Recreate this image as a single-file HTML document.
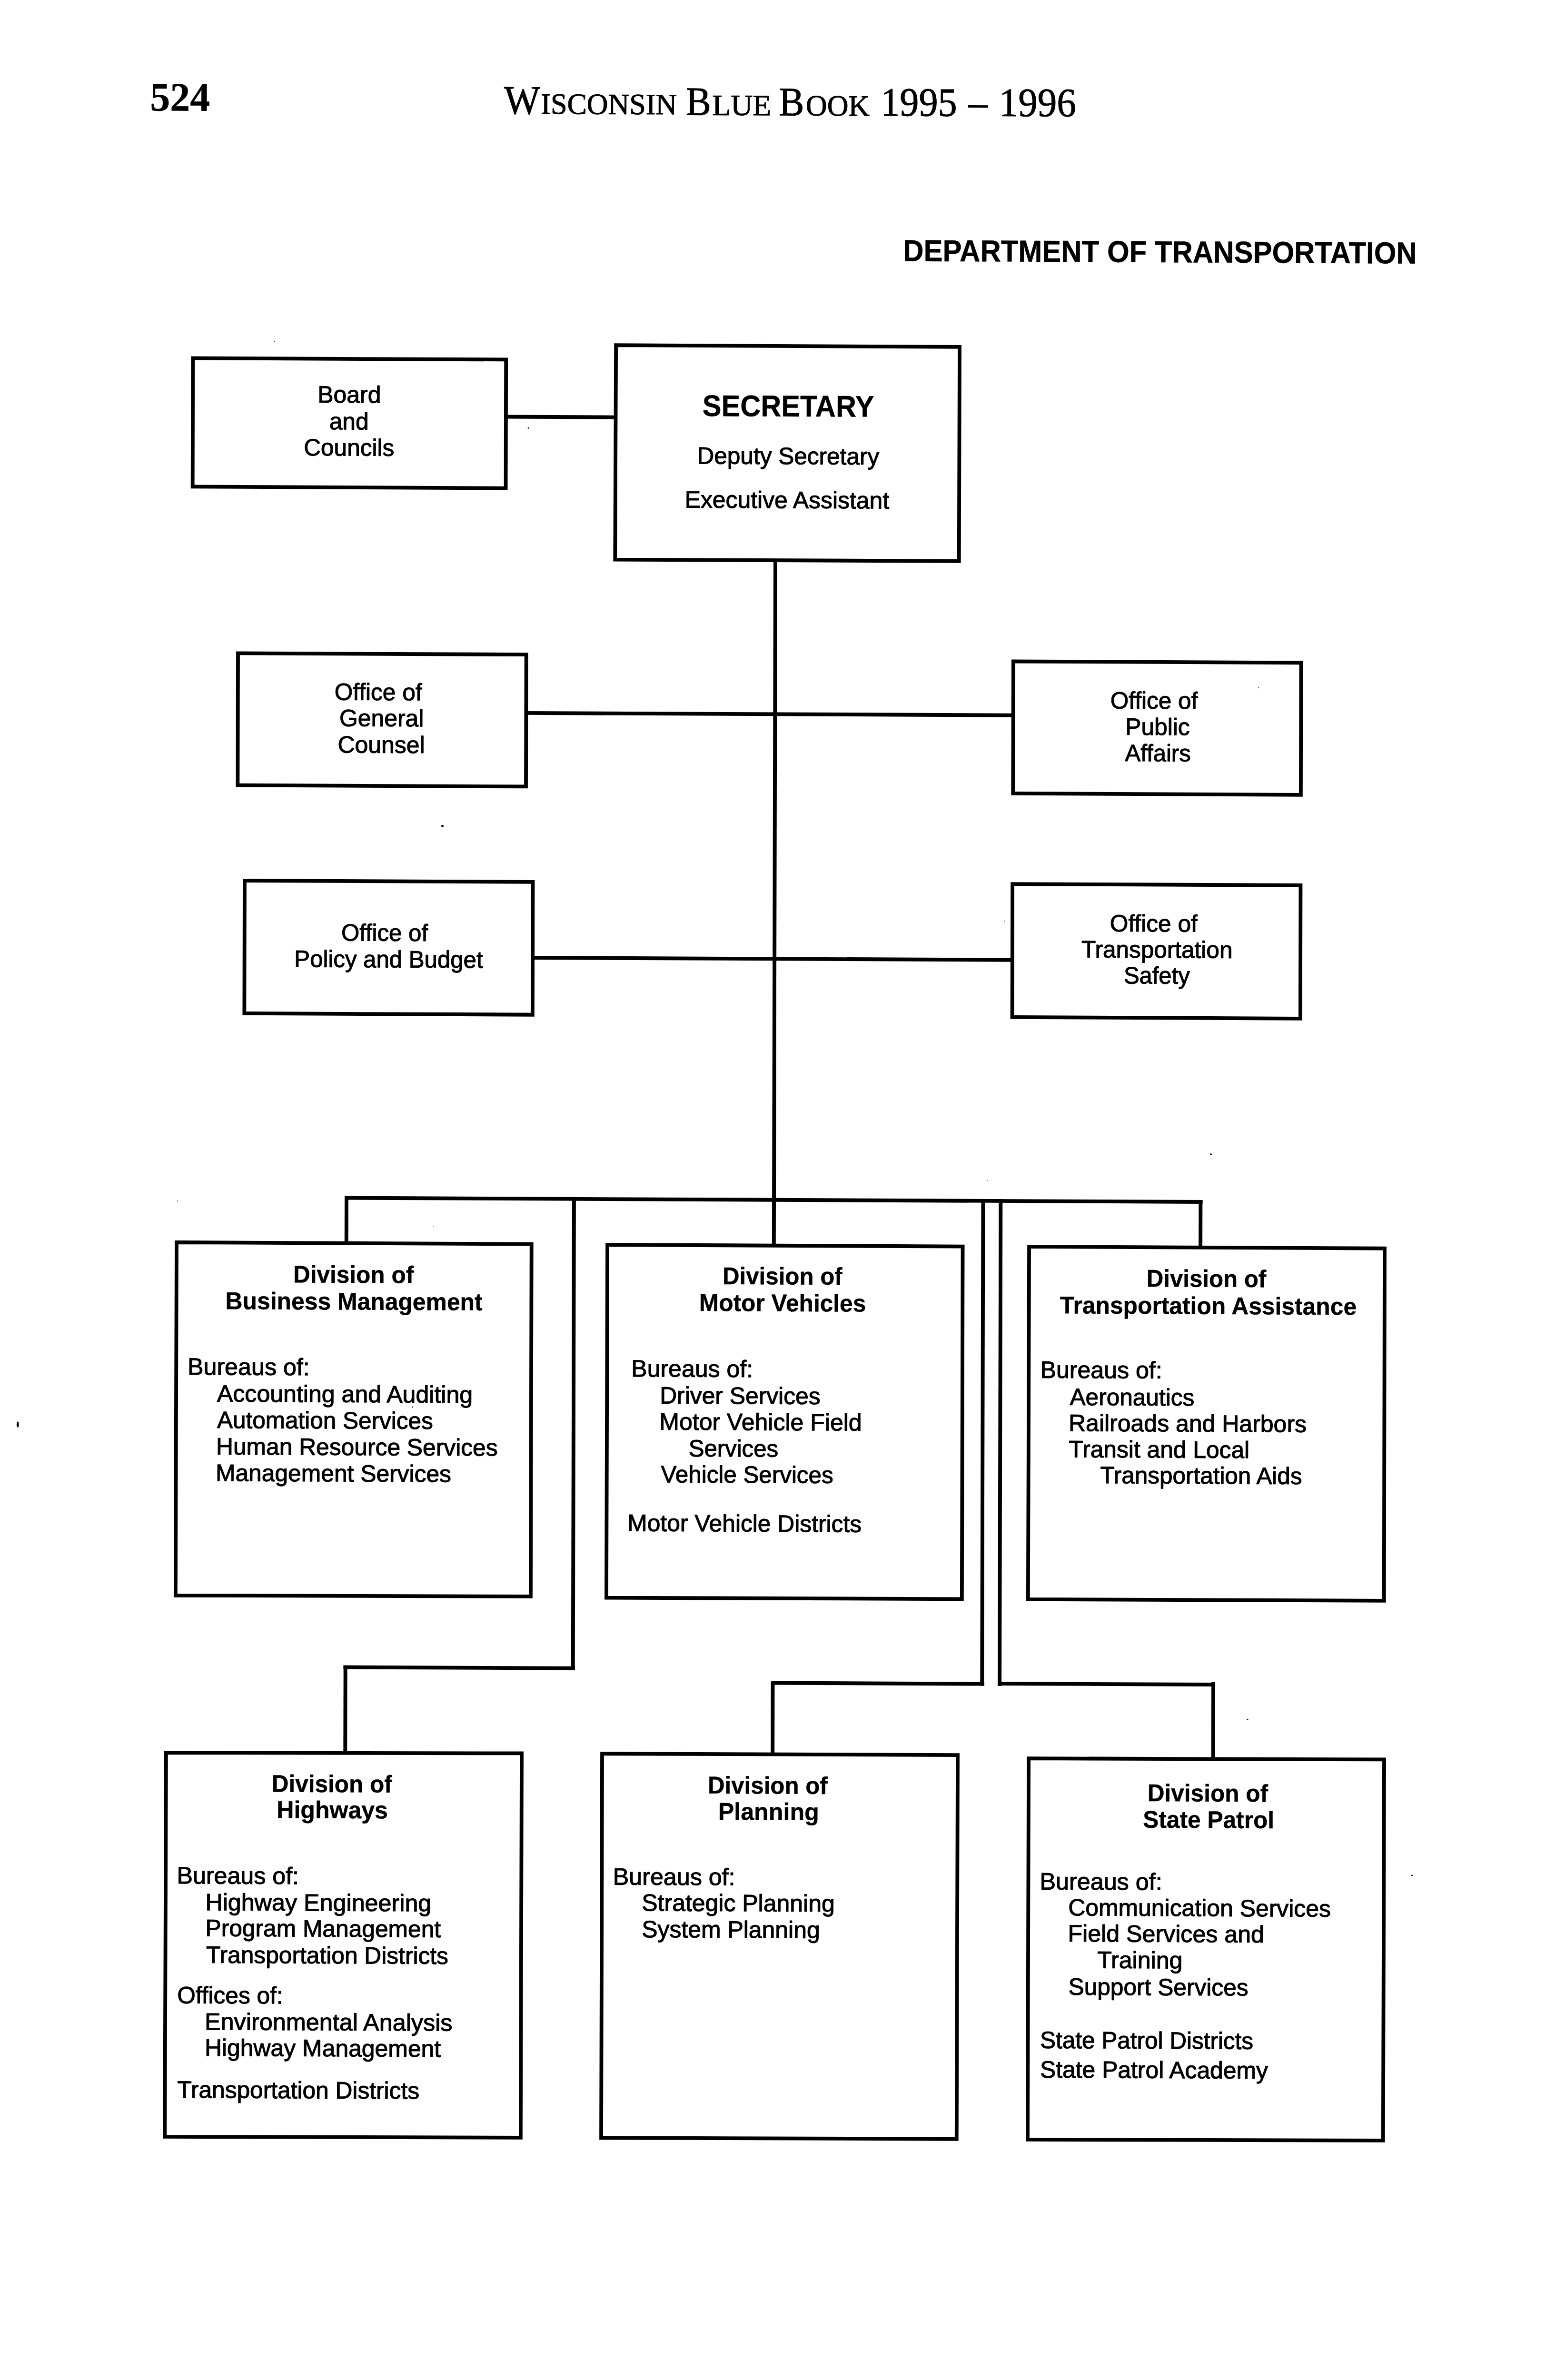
<!DOCTYPE html>
<html><head><meta charset="utf-8"><style>
html,body{margin:0;padding:0;background:#fff;}
svg{display:block;}
text{fill:#000;stroke:#000;stroke-linejoin:round;}
.r{font-family:"Liberation Sans",sans-serif;font-weight:normal;stroke-width:1.1px;}
.b{font-family:"Liberation Sans",sans-serif;font-weight:bold;stroke-width:0.4px;}
.sr{font-family:"Liberation Serif",serif;font-weight:normal;stroke-width:1.0px;}
.sb{font-family:"Liberation Serif",serif;font-weight:bold;stroke-width:0.4px;}
</style></head><body>
<svg width="3248" height="5220" viewBox="0 0 3248 5220">
<rect width="3248" height="5220" fill="#fff"/>
<g transform="matrix(1 0.0047 -0.0022 1 5.742 -7.633)">
<text class="sb" x="310.1" y="238.5" font-size="85" textLength="126.0" lengthAdjust="spacingAndGlyphs">524</text>
<text class="sr" x="1053.7" y="241.5" font-size="85" textLength="75.7" lengthAdjust="spacingAndGlyphs">W</text>
<text class="sr" x="1131.1" y="241.3" font-size="62" textLength="285.7" lengthAdjust="spacingAndGlyphs">ISCONSIN</text>
<text class="sr" x="1435.9" y="242.4" font-size="85" textLength="52.7" lengthAdjust="spacingAndGlyphs">B</text>
<text class="sr" x="1491.0" y="242.3" font-size="62" textLength="124.0" lengthAdjust="spacingAndGlyphs">LUE</text>
<text class="sr" x="1631.3" y="242.1" font-size="85" textLength="52.9" lengthAdjust="spacingAndGlyphs">B</text>
<text class="sr" x="1687.7" y="242.2" font-size="62" textLength="134.2" lengthAdjust="spacingAndGlyphs">OOK</text>
<text class="sr" x="1845.0" y="241.9" font-size="85" textLength="160.4" lengthAdjust="spacingAndGlyphs">1995</text>
<text class="sr" x="2029.6" y="241.6" font-size="85" textLength="39.9" lengthAdjust="spacingAndGlyphs">–</text>
<text class="sr" x="2093.5" y="241.5" font-size="85" textLength="162.2" lengthAdjust="spacingAndGlyphs">1996</text>
<text class="b" x="1892.7" y="547.3" font-size="64" textLength="1079.4" lengthAdjust="spacingAndGlyphs">DEPARTMENT OF TRANSPORTATION</text>
<rect x="401.2" y="758.1" width="657.9" height="270.1" fill="none" stroke="#000" stroke-width="7.8"/>
<path d="M1290.0,726.7 L2011.9,727.1 L2011.6,1177.0 L1289.1,1177.1 Z" fill="none" stroke="#000" stroke-width="7.8" stroke-linejoin="miter"/>
<rect x="497.3" y="1377.6" width="605.6" height="277.3" fill="none" stroke="#000" stroke-width="7.8"/>
<rect x="2126.2" y="1387.1" width="604.6" height="277.5" fill="none" stroke="#000" stroke-width="7.8"/>
<rect x="512.3" y="1855.2" width="605.5" height="278.9" fill="none" stroke="#000" stroke-width="7.8"/>
<rect x="2125.5" y="1854.7" width="605.3" height="279.9" fill="none" stroke="#000" stroke-width="7.8"/>
<path d="M371.0,2615.9 L1116.7,2615.9 L1116.6,3356.2 L370.5,3357.7 Z" fill="none" stroke="#000" stroke-width="7.8" stroke-linejoin="miter"/>
<path d="M1276.1,2616.7 L2022.6,2616.8 L2022.5,3357.5 L1275.6,3358.2 Z" fill="none" stroke="#000" stroke-width="7.8" stroke-linejoin="miter"/>
<path d="M2162.1,2616.4 L2909.0,2616.7 L2909.4,3356.8 L2161.5,3357.3 Z" fill="none" stroke="#000" stroke-width="7.8" stroke-linejoin="miter"/>
<path d="M351.3,3688.0 L1098.4,3685.9 L1098.0,4493.3 L350.4,4494.8 Z" fill="none" stroke="#000" stroke-width="7.8" stroke-linejoin="miter"/>
<path d="M1267.4,3685.9 L2014.4,3685.2 L2013.9,4491.9 L1267.2,4492.9 Z" fill="none" stroke="#000" stroke-width="7.8" stroke-linejoin="miter"/>
<path d="M2163.5,3691.6 L2910.4,3690.4 L2909.9,4490.9 L2163.1,4492.4 Z" fill="none" stroke="#000" stroke-width="7.8" stroke-linejoin="miter"/>
<rect x="1058.2" y="874.2" width="232.0" height="7.9" fill="#000"/>
<rect x="1621.9" y="1178.0" width="7.9" height="1436.0" fill="#000"/>
<rect x="1102.6" y="1496.4" width="1024.0" height="7.9" fill="#000"/>
<rect x="1117.7" y="2010.4" width="1008.0" height="7.9" fill="#000"/>
<rect x="723.8" y="2516.8" width="1802.5" height="7.9" fill="#000"/>
<rect x="723.8" y="2517.2" width="7.9" height="97.0" fill="#000"/>
<rect x="2518.2" y="2516.8" width="7.9" height="98.0" fill="#000"/>
<rect x="1201.8" y="2517.0" width="7.9" height="993.0" fill="#000"/>
<rect x="723.4" y="3502.8" width="486.6" height="7.9" fill="#000"/>
<rect x="723.7" y="3503.2" width="7.9" height="182.0" fill="#000"/>
<rect x="2061.3" y="2516.9" width="7.9" height="1022.5" fill="#000"/>
<rect x="1622.3" y="3531.6" width="447.7" height="7.9" fill="#000"/>
<rect x="1621.6" y="3533.0" width="7.9" height="151.0" fill="#000"/>
<rect x="2098.2" y="2516.8" width="7.9" height="1023.0" fill="#000"/>
<rect x="2098.4" y="3530.8" width="456.6" height="7.9" fill="#000"/>
<rect x="2547.1" y="3529.6" width="7.9" height="160.0" fill="#000"/>
<text class="r" x="663.4" y="850.2" font-size="50" textLength="133.2" lengthAdjust="spacingAndGlyphs">Board</text>
<text class="r" x="688.0" y="906.5" font-size="50" textLength="82.9" lengthAdjust="spacingAndGlyphs">and</text>
<text class="r" x="634.7" y="961.6" font-size="50" textLength="189.9" lengthAdjust="spacingAndGlyphs">Councils</text>
<text class="b" x="1471.9" y="874.7" font-size="63" textLength="360.7" lengthAdjust="spacingAndGlyphs">SECRETARY</text>
<text class="r" x="1460.9" y="975.0" font-size="50" textLength="382.7" lengthAdjust="spacingAndGlyphs">Deputy Secretary</text>
<text class="r" x="1435.3" y="1067.4" font-size="50" textLength="429.4" lengthAdjust="spacingAndGlyphs">Executive Assistant</text>
<text class="r" x="700.3" y="1474.9" font-size="50" textLength="183.7" lengthAdjust="spacingAndGlyphs">Office of</text>
<text class="r" x="710.6" y="1529.7" font-size="50" textLength="177.4" lengthAdjust="spacingAndGlyphs">General</text>
<text class="r" x="707.2" y="1585.6" font-size="50" textLength="183.2" lengthAdjust="spacingAndGlyphs">Counsel</text>
<text class="r" x="2330.3" y="1485.1" font-size="50" textLength="183.6" lengthAdjust="spacingAndGlyphs">Office of</text>
<text class="r" x="2362.0" y="1540.3" font-size="50" textLength="135.3" lengthAdjust="spacingAndGlyphs">Public</text>
<text class="r" x="2361.4" y="1595.5" font-size="50" textLength="138.1" lengthAdjust="spacingAndGlyphs">Affairs</text>
<text class="r" x="715.5" y="1980.5" font-size="50" textLength="182.2" lengthAdjust="spacingAndGlyphs">Office of</text>
<text class="r" x="617.1" y="2036.2" font-size="50" textLength="396.2" lengthAdjust="spacingAndGlyphs">Policy and Budget</text>
<text class="r" x="2330.3" y="1953.5" font-size="50" textLength="184.1" lengthAdjust="spacingAndGlyphs">Office of</text>
<text class="r" x="2270.8" y="2008.3" font-size="50" textLength="317.3" lengthAdjust="spacingAndGlyphs">Transportation</text>
<text class="r" x="2359.7" y="2062.7" font-size="50" textLength="138.7" lengthAdjust="spacingAndGlyphs">Safety</text>
<text class="b" x="616.1" y="2699.3" font-size="51" textLength="253.3" lengthAdjust="spacingAndGlyphs">Division of</text>
<text class="b" x="473.9" y="2755.7" font-size="51" textLength="540.1" lengthAdjust="spacingAndGlyphs">Business Management</text>
<text class="r" x="394.6" y="2893.8" font-size="50" textLength="256.8" lengthAdjust="spacingAndGlyphs">Bureaus of:</text>
<text class="r" x="456.7" y="2950.1" font-size="50" textLength="537.2" lengthAdjust="spacingAndGlyphs">Accounting and Auditing</text>
<text class="r" x="456.8" y="3005.6" font-size="50" textLength="453.9" lengthAdjust="spacingAndGlyphs">Automation Services</text>
<text class="r" x="455.0" y="3061.2" font-size="50" textLength="591.6" lengthAdjust="spacingAndGlyphs">Human Resource Services</text>
<text class="r" x="454.1" y="3116.7" font-size="50" textLength="495.0" lengthAdjust="spacingAndGlyphs">Management Services</text>
<text class="b" x="1518.1" y="2698.4" font-size="51" textLength="251.8" lengthAdjust="spacingAndGlyphs">Division of</text>
<text class="b" x="1469.1" y="2754.8" font-size="51" textLength="350.6" lengthAdjust="spacingAndGlyphs">Motor Vehicles</text>
<text class="r" x="1326.9" y="2893.4" font-size="50" textLength="255.8" lengthAdjust="spacingAndGlyphs">Bureaus of:</text>
<text class="r" x="1386.9" y="2949.6" font-size="50" textLength="337.5" lengthAdjust="spacingAndGlyphs">Driver Services</text>
<text class="r" x="1386.2" y="3004.8" font-size="50" textLength="425.3" lengthAdjust="spacingAndGlyphs">Motor Vehicle Field</text>
<text class="r" x="1447.7" y="3060.5" font-size="50" textLength="188.3" lengthAdjust="spacingAndGlyphs">Services</text>
<text class="r" x="1389.7" y="3115.3" font-size="50" textLength="362.1" lengthAdjust="spacingAndGlyphs">Vehicle Services</text>
<text class="r" x="1319.6" y="3217.9" font-size="50" textLength="491.9" lengthAdjust="spacingAndGlyphs">Motor Vehicle Districts</text>
<text class="b" x="2409.0" y="2699.4" font-size="51" textLength="251.4" lengthAdjust="spacingAndGlyphs">Division of</text>
<text class="b" x="2227.1" y="2756.5" font-size="51" textLength="623.3" lengthAdjust="spacingAndGlyphs">Transportation Assistance</text>
<text class="r" x="2186.1" y="2892.0" font-size="50" textLength="256.2" lengthAdjust="spacingAndGlyphs">Bureaus of:</text>
<text class="r" x="2248.3" y="2948.9" font-size="50" textLength="261.7" lengthAdjust="spacingAndGlyphs">Aeronautics</text>
<text class="r" x="2245.9" y="3003.5" font-size="50" textLength="500.0" lengthAdjust="spacingAndGlyphs">Railroads and Harbors</text>
<text class="r" x="2246.6" y="3058.5" font-size="50" textLength="379.5" lengthAdjust="spacingAndGlyphs">Transit and Local</text>
<text class="r" x="2312.5" y="3112.9" font-size="50" textLength="424.2" lengthAdjust="spacingAndGlyphs">Transportation Aids</text>
<text class="b" x="573.4" y="3769.5" font-size="51" textLength="252.8" lengthAdjust="spacingAndGlyphs">Division of</text>
<text class="b" x="584.0" y="3824.2" font-size="51" textLength="233.6" lengthAdjust="spacingAndGlyphs">Highways</text>
<text class="r" x="374.4" y="3962.9" font-size="50" textLength="256.6" lengthAdjust="spacingAndGlyphs">Bureaus of:</text>
<text class="r" x="434.5" y="4018.8" font-size="50" textLength="474.9" lengthAdjust="spacingAndGlyphs">Highway Engineering</text>
<text class="r" x="434.7" y="4073.1" font-size="50" textLength="494.7" lengthAdjust="spacingAndGlyphs">Program Management</text>
<text class="r" x="436.4" y="4129.3" font-size="50" textLength="508.9" lengthAdjust="spacingAndGlyphs">Transportation Districts</text>
<text class="r" x="375.7" y="4214.3" font-size="50" textLength="222.5" lengthAdjust="spacingAndGlyphs">Offices of:</text>
<text class="r" x="433.7" y="4269.8" font-size="50" textLength="520.5" lengthAdjust="spacingAndGlyphs">Environmental Analysis</text>
<text class="r" x="433.8" y="4324.5" font-size="50" textLength="496.2" lengthAdjust="spacingAndGlyphs">Highway Management</text>
<text class="r" x="376.4" y="4412.9" font-size="50" textLength="508.6" lengthAdjust="spacingAndGlyphs">Transportation Districts</text>
<text class="b" x="1489.5" y="3768.5" font-size="51" textLength="251.8" lengthAdjust="spacingAndGlyphs">Division of</text>
<text class="b" x="1511.4" y="3823.6" font-size="51" textLength="212.0" lengthAdjust="spacingAndGlyphs">Planning</text>
<text class="r" x="1290.8" y="3961.0" font-size="50" textLength="256.7" lengthAdjust="spacingAndGlyphs">Bureaus of:</text>
<text class="r" x="1351.4" y="4015.5" font-size="50" textLength="405.4" lengthAdjust="spacingAndGlyphs">Strategic Planning</text>
<text class="r" x="1351.5" y="4071.2" font-size="50" textLength="374.4" lengthAdjust="spacingAndGlyphs">System Planning</text>
<text class="b" x="2413.3" y="3780.4" font-size="51" textLength="253.3" lengthAdjust="spacingAndGlyphs">Division of</text>
<text class="b" x="2403.9" y="3836.1" font-size="51" textLength="275.9" lengthAdjust="spacingAndGlyphs">State Patrol</text>
<text class="r" x="2187.5" y="3966.8" font-size="50" textLength="257.1" lengthAdjust="spacingAndGlyphs">Bureaus of:</text>
<text class="r" x="2247.3" y="4021.3" font-size="50" textLength="551.8" lengthAdjust="spacingAndGlyphs">Communication Services</text>
<text class="r" x="2246.7" y="4076.0" font-size="50" textLength="412.5" lengthAdjust="spacingAndGlyphs">Field Services and</text>
<text class="r" x="2308.5" y="4131.4" font-size="50" textLength="179.4" lengthAdjust="spacingAndGlyphs">Training</text>
<text class="r" x="2248.0" y="4187.9" font-size="50" textLength="378.1" lengthAdjust="spacingAndGlyphs">Support Services</text>
<text class="r" x="2188.7" y="4300.1" font-size="50" textLength="448.1" lengthAdjust="spacingAndGlyphs">State Patrol Districts</text>
<text class="r" x="2188.9" y="4362.0" font-size="50" textLength="478.8" lengthAdjust="spacingAndGlyphs">State Patrol Academy</text>
<ellipse cx="38.2" cy="3000.0" rx="2.4" ry="6.4" transform="rotate(0 38.2 3000.0)" fill="#000"/>
<ellipse cx="927.6" cy="1738.6" rx="2.6" ry="2.3" transform="rotate(0 927.6 1738.6)" fill="#000"/>
<ellipse cx="1106.2" cy="901.9" rx="1.4" ry="1.4" transform="rotate(0 1106.2 901.9)" fill="#000"/>
<ellipse cx="2543.6" cy="2420.7" rx="2.6" ry="1.3" transform="rotate(35 2543.6 2420.7)" fill="#000"/>
<ellipse cx="572.8" cy="722.9" rx="1.0" ry="1.0" transform="rotate(0 572.8 722.9)" fill="#000"/>
<ellipse cx="372.8" cy="2528.9" rx="0.9" ry="0.9" transform="rotate(0 372.8 2528.9)" fill="#000"/>
<ellipse cx="910.9" cy="2579.4" rx="0.8" ry="0.8" transform="rotate(0 910.9 2579.4)" fill="#000"/>
<ellipse cx="2641.4" cy="1440.2" rx="1.0" ry="1.0" transform="rotate(0 2641.4 1440.2)" fill="#000"/>
<ellipse cx="2108.5" cy="1932.7" rx="0.9" ry="0.9" transform="rotate(0 2108.5 1932.7)" fill="#000"/>
<ellipse cx="2074.7" cy="2477.9" rx="0.8" ry="0.8" transform="rotate(0 2074.7 2477.9)" fill="#000"/>
<ellipse cx="2623.0" cy="3607.3" rx="2.0" ry="0.9" transform="rotate(0 2623.0 3607.3)" fill="#000"/>
<ellipse cx="2969.5" cy="3933.7" rx="2.8" ry="1.0" transform="rotate(10 2969.5 3933.7)" fill="#000"/>
<ellipse cx="867.8" cy="2959.6" rx="1.2" ry="1.2" transform="rotate(0 867.8 2959.6)" fill="#000"/>
</g>
</svg>
</body></html>
